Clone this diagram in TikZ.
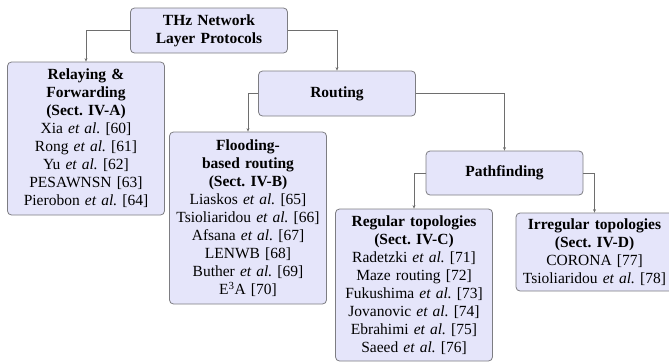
\documentclass[tikz,border=0pt]{standalone}
\usepackage{fontspec}
\setmainfont{Liberation Serif}
\frenchspacing
\usetikzlibrary{arrows.meta}
\definecolor{boxfill}{RGB}{229,229,250}
\definecolor{boxline}{RGB}{125,125,130}
\definecolor{connline}{RGB}{110,110,110}
\begin{document}
\begin{tikzpicture}[x=1pt,y=-1pt,
  box/.style={draw=boxline, line width=0.8pt, fill=boxfill, rounded corners=4pt,
    minimum width=157pt, text width=150pt, align=center, inner sep=0pt,
    font=\fontsize{15.5}{18}\selectfont},
  conn/.style={draw=connline, line width=0.7pt, -{Stealth[length=3.5pt,width=3pt]}}]
\useasboundingbox (0,0) rectangle (669,362);
\begin{scope}
\clip (0,0) rectangle (669,362);
\node[box, minimum height=45pt] (top) at (209,30.5) {\textbf{THz Network}\\\textbf{Layer Protocols}};
\node[box, minimum height=153pt] (relay) at (86,138.5) {\textbf{Relaying \&}\\\textbf{Forwarding}\\\textbf{(Sect. IV-A)}\\Xia \textit{et al.}\ [60]\\Rong \textit{et al.}\ [61]\\Yu \textit{et al.}\ [62]\\PESAWNSN [63]\\Pierobon \textit{et al.}\ [64]};
\node[box, minimum height=45pt] (routing) at (337,93.5) {\textbf{Routing}};
\node[box, minimum height=172pt] (flood) at (248,218) {\textbf{Flooding-}\\\textbf{based routing}\\\textbf{(Sect. IV-B)}\\Liaskos \textit{et al.}\ [65]\\Tsioliaridou \textit{et al.}\ [66]\\Afsana \textit{et al.}\ [67]\\LENWB [68]\\Buther \textit{et al.}\ [69]\\E\textsuperscript{3}A [70]};
\node[box, minimum height=44pt] (path) at (504.5,173) {\textbf{Pathfinding}};
\node[box, minimum height=152pt] (regular) at (414,285) {\textbf{Regular topologies}\\\textbf{(Sect.\ IV-C)}\\Radetzki \textit{et al.}\ [71]\\Maze routing [72]\\Fukushima \textit{et al.}\ [73]\\Jovanovic \textit{et al.}\ [74]\\Ebrahimi \textit{et al.}\ [75]\\Saeed \textit{et al.}\ [76]};
\node[box, minimum height=78pt] (irregular) at (594.5,252) {\textbf{Irregular topologies}\\\textbf{(Sect. IV-D)}\\CORONA [77]\\Tsioliaridou \textit{et al.}\ [78]};
\draw[conn] (top.west) -| (relay.north);
\draw[conn] (top.east) -| (routing.north);
\draw[conn] (routing.west) -| (flood.north);
\draw[conn] (routing.east) -| (path.north);
\draw[conn] (path.west) -| (regular.north);
\draw[conn] (path.east) -| (irregular.north);
\end{scope}
\end{tikzpicture}
\end{document}
